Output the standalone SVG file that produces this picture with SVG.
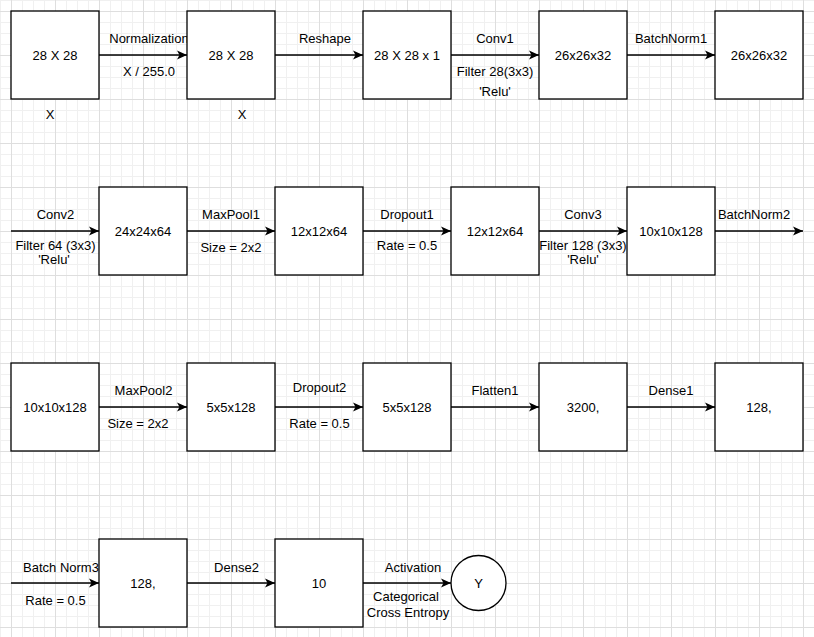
<svg xmlns="http://www.w3.org/2000/svg" width="814" height="637" viewBox="0 0 814 637">
<defs>
<pattern id="grid" x="11" y="11" width="44" height="44" patternUnits="userSpaceOnUse">
<path d="M11.5,0V44M22.5,0V44M33.5,0V44M0,11.5H44M0,22.5H44M0,33.5H44" stroke="#f0f0f0" stroke-width="1" fill="none"/>
<path d="M0.5,0V44M0,0.5H44" stroke="#dedede" stroke-width="1" fill="none"/>
</pattern>
<marker id="arr" viewBox="0 0 10 10" refX="10" refY="5" markerWidth="10" markerHeight="10" markerUnits="userSpaceOnUse" orient="auto">
<path d="M0,0.5 L10,5 L0,9.5 L2.5,5 Z" fill="#000"/>
</marker>
<style>
.b{fill:#fff;stroke:#000;stroke-width:1.3}
.t{font-family:"Liberation Sans",Arial,sans-serif;font-size:13px;fill:#000;text-anchor:middle}
.e{stroke:#000;stroke-width:1.3;fill:none;marker-end:url(#arr)}
</style>
</defs>
<rect width="814" height="637" fill="#fff"/>
<rect x="0" y="0" width="814" height="637" fill="url(#grid)"/>

<g id="connectors">
<path class="e" d="M99,55H187"/>
<path class="e" d="M275,55H363"/>
<path class="e" d="M451,55H539"/>
<path class="e" d="M627,55H715"/>
<path class="e" d="M11,231H99"/>
<path class="e" d="M187,231H275"/>
<path class="e" d="M363,231H451"/>
<path class="e" d="M539,231H627"/>
<path class="e" d="M715,231H803"/>
<path class="e" d="M99,407H187"/>
<path class="e" d="M275,407H363"/>
<path class="e" d="M451,407H539"/>
<path class="e" d="M627,407H715"/>
<path class="e" d="M11,583H99"/>
<path class="e" d="M187,583H275"/>
<path class="e" d="M363,583H451"/>
<g class="t">
<text x="149" y="43">Normalization</text>
<text x="149" y="76">X / 255.0</text>
<text x="325" y="43">Reshape</text>
<text x="495" y="43">Conv1</text>
<text x="495" y="76">Filter 28(3x3)</text>
<text x="495" y="96">'Relu'</text>
<text x="671" y="43">BatchNorm1</text>
<text x="55.5" y="219">Conv2</text>
<text x="55.5" y="250">Filter 64 (3x3)</text>
<text x="54" y="264">'Relu'</text>
<text x="231" y="219">MaxPool1</text>
<text x="231" y="252">Size = 2x2</text>
<text x="407" y="219">Dropout1</text>
<text x="407" y="250">Rate = 0.5</text>
<text x="583" y="219">Conv3</text>
<text x="583" y="250">Filter 128 (3x3)</text>
<text x="583" y="264">'Relu'</text>
<text x="754" y="219">BatchNorm2</text>
<text x="143.5" y="395">MaxPool2</text>
<text x="138" y="428">Size = 2x2</text>
<text x="319.5" y="392">Dropout2</text>
<text x="319.5" y="428">Rate = 0.5</text>
<text x="495" y="395">Flatten1</text>
<text x="671" y="395">Dense1</text>
<text x="61" y="572">Batch Norm3</text>
<text x="55.5" y="605">Rate = 0.5</text>
<text x="236.5" y="572">Dense2</text>
<text x="413" y="572">Activation</text>
<text x="406" y="601">Categorical</text>
<text x="408" y="617">Cross Entropy</text>
</g>
</g>

<g id="n1"><rect class="b" x="11" y="11" width="88" height="88"/><text class="t" x="55" y="59.5">28 X 28</text></g>
<g id="x1"><text class="t" x="50" y="119">X</text></g>
<g id="n2"><rect class="b" x="187" y="11" width="88" height="88"/><text class="t" x="231" y="59.5">28 X 28</text></g>
<g id="x2"><text class="t" x="242" y="119">X</text></g>
<g id="n3"><rect class="b" x="363" y="11" width="88" height="88"/><text class="t" x="407" y="59.5">28 X 28 x 1</text></g>
<g id="n4"><rect class="b" x="539" y="11" width="88" height="88"/><text class="t" x="583" y="59.5">26x26x32</text></g>
<g id="n5"><rect class="b" x="715" y="11" width="88" height="88"/><text class="t" x="759" y="59.5">26x26x32</text></g>

<g id="n6"><rect class="b" x="99" y="187" width="88" height="88"/><text class="t" x="143" y="235.5">24x24x64</text></g>
<g id="n7"><rect class="b" x="275" y="187" width="88" height="88"/><text class="t" x="319" y="235.5">12x12x64</text></g>
<g id="n8"><rect class="b" x="451" y="187" width="88" height="88"/><text class="t" x="495" y="235.5">12x12x64</text></g>
<g id="n9"><rect class="b" x="627" y="187" width="88" height="88"/><text class="t" x="671" y="235.5">10x10x128</text></g>

<g id="n10"><rect class="b" x="11" y="363" width="88" height="88"/><text class="t" x="55" y="411.5">10x10x128</text></g>
<g id="n11"><rect class="b" x="187" y="363" width="88" height="88"/><text class="t" x="231" y="411.5">5x5x128</text></g>
<g id="n12"><rect class="b" x="363" y="363" width="88" height="88"/><text class="t" x="407" y="411.5">5x5x128</text></g>
<g id="n13"><rect class="b" x="539" y="363" width="88" height="88"/><text class="t" x="583" y="411.5">3200,</text></g>
<g id="n14"><rect class="b" x="715" y="363" width="88" height="88"/><text class="t" x="759" y="411.5">128,</text></g>

<g id="n15"><rect class="b" x="99" y="539" width="88" height="88"/><text class="t" x="143" y="587.5">128,</text></g>
<g id="n16"><rect class="b" x="275" y="539" width="88" height="88"/><text class="t" x="319" y="587.5">10</text></g>
<g id="n17"><circle class="b" cx="478.5" cy="583" r="27.5"/><text class="t" x="478.5" y="587.5">Y</text></g>
</svg>
